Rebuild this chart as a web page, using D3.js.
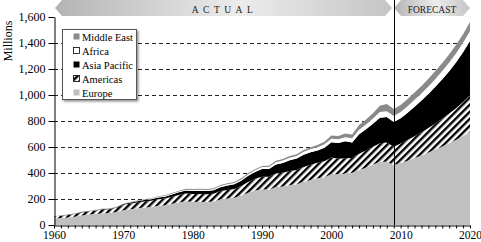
<!DOCTYPE html>
<html>
<head>
<meta charset="utf-8">
<script src="https://cdn.jsdelivr.net/npm/d3@7"></script>
<style>
  body { margin: 0; background: #fff; }
  svg { display: block; }
</style>
</head>
<body>
<div id="chart"></div>
<script>
// arrivals by region, millions. 1960-2009 actual, 2010-2020 forecast
years = d3.range(1960, 2021)
forecastStart = 2009

europe = [50, 54, 58, 64, 74, 80, 85, 91, 92, 100,
          113, 121, 128, 134, 138, 149, 152, 164, 174, 183,
          177, 178, 177, 180, 196, 204, 209, 226, 248, 265,
          275, 272, 292, 296, 308, 314, 332, 347, 359, 368,
          392, 390, 399, 402, 423, 440, 466, 486, 487, 461,
          477, 495, 515, 535, 557, 580, 604, 629, 656, 685, 717]
americas = [17, 18, 19, 20, 23, 25, 26, 29, 29, 32,
            42, 44, 45, 47, 48, 50, 51, 54, 57, 60,
            62, 61, 59, 60, 65, 66, 68, 74, 82, 90,
            97, 99, 105, 105, 107, 110, 115, 117, 119, 122,
            128, 120, 115, 113, 125, 133, 135, 143, 148, 141,
            149, 158, 168, 178, 189, 201, 214, 228, 243, 261, 282]
asiaPacific = [1, 1.2, 1.4, 1.7, 2.2, 2.5, 3, 3.5, 3.8, 4.5,
               6.2, 7.5, 8.8, 10.5, 11.5, 13, 15, 17, 20, 22,
               23, 25, 26, 27, 30, 33, 36, 41, 48, 52,
               58, 60, 68, 76, 83, 87, 94, 95, 95, 105,
               116, 121, 131, 120, 150, 163, 177, 196, 196, 191,
               196, 211, 227, 244, 262, 282, 303, 326, 352, 382, 416]
africa = [0.8, 0.9, 1, 1.1, 1.3, 1.4, 1.5, 1.7, 1.8, 2,
          2.4, 2.8, 3.1, 3.5, 3.9, 4.7, 5, 5.5, 6.2, 6.8,
          7.2, 8, 7.7, 8.3, 8.6, 9.7, 9.3, 9.9, 12.5, 13.6,
          15.2, 16.1, 18.1, 18.7, 18.9, 18.9, 21.6, 23.5, 25.2, 26.4,
          28.3, 28.8, 30, 31.6, 34.5, 37.3, 41.5, 44.9, 44.4, 45.9,
          48, 50, 53, 55, 58, 61, 64, 67, 70, 73, 77]
middleEast = [0.6, 0.7, 0.8, 0.9, 1.1, 1.3, 1.4, 1.5, 1.6, 1.8,
              1.9, 2.5, 3, 3.4, 3.8, 4.5, 4.9, 5.5, 6.3, 7,
              7.1, 7.6, 7.3, 7.9, 8, 7.5, 7.6, 8.3, 9.1, 9.2,
              9.6, 8.4, 11.4, 12.8, 13.5, 13.7, 15, 15.6, 17.2, 19.6,
              24.1, 24.2, 29.2, 30, 36.3, 37.9, 40.9, 46.9, 55.6, 52.9,
              54, 55, 56, 57, 59, 60, 62, 64, 65, 67, 69]

regions = ["Europe", "Americas", "Asia Pacific", "Africa", "Middle East"]
yTicks = [0, 200, 400, 600, 800, 1000, 1200, 1400, 1600]
gridTicks = [200, 400, 600, 800, 1000, 1200, 1400]
xLabels = [1960, 1970, 1980, 1990, 2000, 2010, 2020]

width = 481
height = 242
serif = "'Liberation Serif', 'Times New Roman', Times, serif"

// table for the stack
rows = years.map((yr, i) => ({
    year: yr,
    "Europe": europe[i],
    "Americas": americas[i],
    "Asia Pacific": asiaPacific[i],
    "Africa": africa[i],
    "Middle East": middleEast[i]
}))

x = d3.scaleLinear().domain([1960, 2020]).range([54, 470])
y = d3.scaleLinear().domain([0, 1600]).range([225, 17])

fills = {
    "Europe": "#c0c0c0",
    "Americas": "url(#hatch)",
    "Asia Pacific": "#000",
    "Africa": "#fff",
    "Middle East": "#8a8a8a"
}

const svg = d3.select("#chart").append("svg")
    .attr("width", width)
    .attr("height", height)
    .attr("font-family", serif)

const defs = svg.append("defs")

// diagonal hatching for the americas band
const hatch = defs.append("pattern")
    .attr("id", "hatch")
    .attr("patternUnits", "userSpaceOnUse")
    .attr("width", 5)
    .attr("height", 5)
    .attr("patternTransform", "rotate(45)")
hatch.append("rect").attr("width", 5).attr("height", 5).attr("fill", "#fff")
hatch.append("rect").attr("width", 2.4).attr("height", 5).attr("fill", "#000")

const bannerGrad = defs.append("linearGradient").attr("id", "bannerGrad")
bannerGrad.append("stop").attr("offset", "0%").attr("stop-color", "#b4b4b4")
bannerGrad.append("stop").attr("offset", "55%").attr("stop-color", "#ececec")
bannerGrad.append("stop").attr("offset", "100%").attr("stop-color", "#c4c4c4")

const shadow = defs.append("filter").attr("id", "shadow")
    .attr("x", "-10%").attr("y", "-10%").attr("width", "130%").attr("height", "130%")
shadow.append("feDropShadow")
    .attr("dx", 1.5).attr("dy", 1.5).attr("stdDeviation", 0.8)
    .attr("flood-color", "#000").attr("flood-opacity", 0.45)

// banners
function banner(x0, x1, label, spacing) {
    const top = 0, bot = 16, mid = 8, tip = 7
    svg.append("path")
        .attr("d", `M${x0},${mid} L${x0 + tip},${top} L${x1 - tip},${top} L${x1},${mid} L${x1 - tip},${bot} L${x0 + tip},${bot} Z`)
        .attr("fill", "url(#bannerGrad)")
    svg.append("text")
        .attr("x", (x0 + x1) / 2 + (spacing ? 1 : 0))
        .attr("y", 12.5)
        .attr("text-anchor", "middle")
        .attr("font-size", 9.5)
        .attr("letter-spacing", spacing)
        .attr("fill", "#222")
        .text(label)
}
banner(55, 392, "ACTUAL", 4.5)
banner(394, 470, "FORECAST", 0)

// dashed grid
svg.append("g").selectAll("line")
    .data(gridTicks)
    .join("line")
    .attr("x1", x(1960)).attr("x2", x(2020))
    .attr("y1", d => Math.round(y(d)) + 0.5).attr("y2", d => Math.round(y(d)) + 0.5)
    .attr("stroke", "#222")
    .attr("stroke-dasharray", "4,3")

// stacked areas
series = d3.stack().keys(regions)(rows)

area = d3.area()
    .x(d => x(d.data.year))
    .y0(d => y(d[0]))
    .y1(d => y(d[1]))

svg.append("g").selectAll("path")
    .data(series)
    .join("path")
    .attr("d", area)
    .attr("fill", d => fills[d.key])

// forecast divider
svg.append("line")
    .attr("x1", Math.round(x(forecastStart)) + 0.5).attr("x2", Math.round(x(forecastStart)) + 0.5)
    .attr("y1", 0).attr("y2", y(0))
    .attr("stroke", "#000")

// axes
const yAxis = d3.axisLeft(y)
    .tickValues(yTicks)
    .tickSize(6)
    .tickSizeOuter(0)
    .tickPadding(3)
    .tickFormat(d3.format(","))

svg.append("g")
    .attr("transform", "translate(54.5,0)")
    .call(yAxis)
    .attr("font-family", serif)
    .attr("font-size", 12)
    .call(g => g.selectAll("text").attr("fill", "#000"))
    .call(g => g.selectAll("line, path").attr("stroke", "#000"))

const xAxis = d3.axisBottom(x)
    .tickValues(years)
    .tickSize(3)
    .tickSizeOuter(0)
    .tickPadding(2.5)
    .tickFormat(d => xLabels.includes(d) ? d : "")

svg.append("g")
    .attr("transform", "translate(0,225.5)")
    .call(xAxis)
    .attr("font-family", serif)
    .attr("font-size", 11.5)
    .call(g => g.selectAll("text").attr("fill", "#000"))
    .call(g => g.selectAll("line, path").attr("stroke", "#000"))

svg.append("text")
    .attr("transform", "translate(12,41) rotate(-90)")
    .attr("text-anchor", "middle")
    .attr("font-size", 12)
    .text("Millions")

// legend, top entry first
const legend = svg.append("g")
legend.append("rect")
    .attr("x", 62.5).attr("y", 29.5)
    .attr("width", 74).attr("height", 70)
    .attr("fill", "#fff")
    .attr("stroke", "#555")
    .attr("filter", "url(#shadow)")

const items = legend.selectAll("g.item")
    .data(regions.slice().reverse())
    .join("g")
    .attr("class", "item")
    .attr("transform", (d, i) => `translate(73,${37 + i * 14})`)

items.append("rect")
    .attr("x", 0.5).attr("y", -3.5)
    .attr("width", 6).attr("height", 6)
    .attr("fill", d => fills[d])
    .attr("stroke", d => d === "Africa" || d === "Americas" ? "#000" : "none")
    .attr("stroke-width", 0.8)

items.append("text")
    .attr("x", 9)
    .attr("y", 3.5)
    .attr("font-size", 10.5)
    .text(d => d)
</script>
</body>
</html>
